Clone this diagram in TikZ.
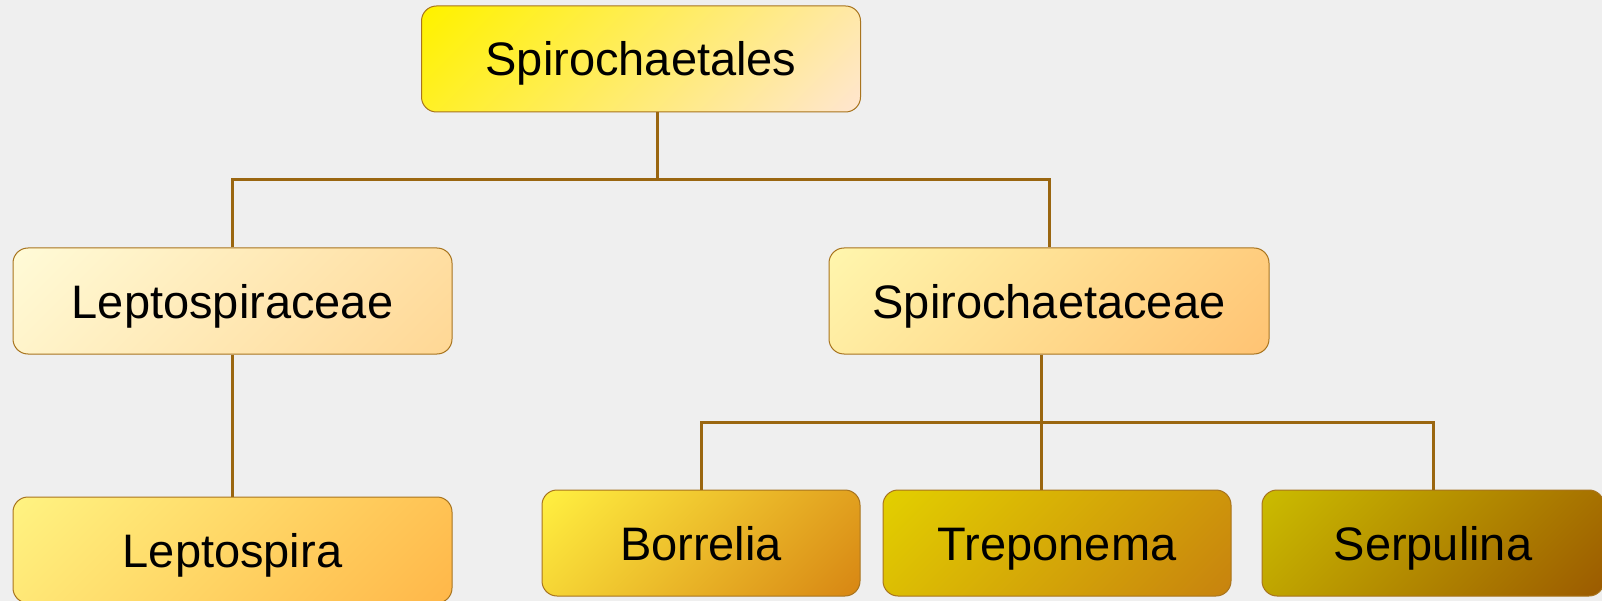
\documentclass[tikz,border=0pt]{standalone}
\usepackage{fontspec}
\setmainfont{Liberation Sans}
\definecolor{bg}{HTML}{EFEFEF}
\definecolor{boxline}{HTML}{A8741E}
\definecolor{conncol}{HTML}{9A6610}
\definecolor{topA}{HTML}{FFF200}\definecolor{topB}{HTML}{FFE6CC}
\definecolor{lfamA}{HTML}{FFFAD6}\definecolor{lfamB}{HTML}{FFD896}
\definecolor{rfamA}{HTML}{FFF5AC}\definecolor{rfamB}{HTML}{FFC474}
\definecolor{lepA}{HTML}{FFF280}\definecolor{lepB}{HTML}{FFB84A}
\definecolor{borA}{HTML}{FFEE40}\definecolor{borB}{HTML}{D88814}
\definecolor{treA}{HTML}{E2CE00}\definecolor{treB}{HTML}{C8840E}
\definecolor{serA}{HTML}{CABA00}\definecolor{serB}{HTML}{9C5C00}
\colorlet{gA}{topA}\colorlet{gB}{topB}
\pgfdeclarehorizontalshading[gA,gB]{diaggrad}{100bp}{color(0bp)=(gA); color(16bp)=(gA); color(84bp)=(gB); color(100bp)=(gB)}
\tikzset{
  box/.style={draw=boxline, line width=1pt, rounded corners=15pt, inner sep=0pt,
    font=\fontsize{47}{56}\selectfont, text height=34pt, text depth=0pt,
    minimum height=106pt},
  grad/.style 2 args={/utils/exec={\colorlet{gA}{#1}\colorlet{gB}{#2}},
    shading=diaggrad, shading angle=-45},
  conn/.style={draw=conncol, line width=3pt}
}
\begin{document}
\begin{tikzpicture}[x=1pt,y=-1pt]
\fill[bg] (0,0) rectangle (1602,601);
\useasboundingbox (0,0) rectangle (1602,601);
\node[box, grad={topA}{topB}, minimum width=439pt] (top) at (641,59) {Spirochaetales};
\node[box, grad={lfamA}{lfamB}, minimum width=439pt] (lfam) at (232.5,301) {Leptospiraceae};
\node[box, grad={rfamA}{rfamB}, minimum width=440pt] (rfam) at (1049,301) {Spirochaetaceae};
\node[box, grad={lepA}{lepB}, minimum width=439pt] (lep) at (232.5,550) {Leptospira};
\node[box, grad={borA}{borB}, minimum width=318pt] (bor) at (701,543) {Borrelia};
\node[box, grad={treA}{treB}, minimum width=348pt] (tre) at (1057,543) {Treponema};
\node[box, grad={serA}{serB}, minimum width=342pt] (ser) at (1433,543) {Serpulina};
\coordinate (s1) at (657,180);
\coordinate (s2) at (1041,422);
\draw[conn] (top.south -| s1) -- (s1);
\draw[conn] (lfam.north) -- (lfam.north |- s1) -- (rfam.north |- s1) -- (rfam.north);
\draw[conn] (lfam.south) -- (lep.north);
\draw[conn] (rfam.south -| s2) -- (tre.north -| s2);
\draw[conn] (bor.north) -- (bor.north |- s2) -- (ser.north |- s2) -- (ser.north);
\end{tikzpicture}
\end{document}
